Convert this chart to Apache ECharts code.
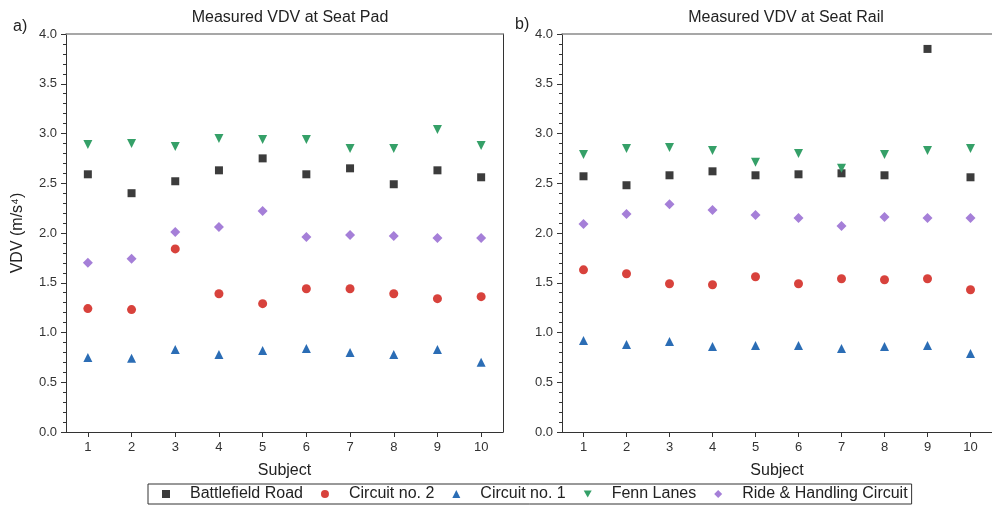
<!DOCTYPE html>
<html>
<head>
<meta charset="utf-8">
<script src="https://cdn.jsdelivr.net/npm/echarts@6/dist/echarts.min.js"></script>
<style>
html,body{margin:0;padding:0;background:#fff;}
#chart{width:992px;height:508px;}
</style>
</head>
<body>
<div id="chart"></div>
<script>
const subjects = ['1','2','3','4','5','6','7','8','9','10'];
const yTicks = [0, 0.5, 1.0, 1.5, 2.0, 2.5, 3.0, 3.5, 4.0];
const seriesNames = ['Battlefield Road', 'Circuit no. 2', 'Circuit no. 1', 'Fenn Lanes', 'Ride & Handling Circuit'];

// a) Seat Pad
const padBattlefield = [2.59, 2.40, 2.52, 2.63, 2.75, 2.59, 2.65, 2.49, 2.63, 2.56];
const padCircuit2    = [1.24, 1.23, 1.84, 1.39, 1.29, 1.44, 1.44, 1.39, 1.34, 1.36];
const padCircuit1    = [0.75, 0.74, 0.83, 0.78, 0.82, 0.84, 0.80, 0.78, 0.83, 0.70];
const padFenn        = [2.89, 2.90, 2.87, 2.95, 2.94, 2.94, 2.85, 2.85, 3.04, 2.88];
const padRide        = [1.70, 1.74, 2.01, 2.06, 2.22, 1.96, 1.98, 1.97, 1.95, 1.95];

// b) Seat Rail
const railBattlefield = [2.57, 2.48, 2.58, 2.62, 2.58, 2.59, 2.60, 2.58, 3.85, 2.56];
const railCircuit2    = [1.63, 1.59, 1.49, 1.48, 1.56, 1.49, 1.54, 1.53, 1.54, 1.43];
const railCircuit1    = [0.92, 0.88, 0.91, 0.86, 0.87, 0.87, 0.84, 0.86, 0.87, 0.79];
const railFenn        = [2.79, 2.85, 2.86, 2.83, 2.71, 2.80, 2.65, 2.79, 2.83, 2.85];
const railRide        = [2.09, 2.19, 2.29, 2.23, 2.18, 2.15, 2.07, 2.16, 2.15, 2.15];

const downTriangle = 'path://M0,0L10,0L5,9Z';
const styles = [
  {color:'#3c3c3c', symbol:'rect', size:8},
  {color:'#d8423c', symbol:'circle', size:9},
  {color:'#2b6db5', symbol:'triangle', size:9},
  {color:'#35a068', symbol:downTriangle, size:9},
  {color:'#a57fd8', symbol:'diamond', size:10}
];

const padData = [padBattlefield, padCircuit2, padCircuit1, padFenn, padRide];
const railData = [railBattlefield, railCircuit2, railCircuit1, railFenn, railRide];

const FONT = 'Liberation Sans, Arial, sans-serif';
const axisColor = '#333';
const frameColor = '#8a8a8a';

function xAxes(gridIndex) {
  return [
    {
      type:'category', gridIndex, data: subjects, boundaryGap:true,
      name:'Subject', nameLocation:'middle', nameGap:31,
      nameTextStyle:{fontSize:16, color:'#222', fontFamily:FONT},
      axisLine:{show:true, onZero:false, lineStyle:{color:axisColor, width:1}},
      axisTick:{show:true, alignWithLabel:true, inside:false, length:5, lineStyle:{color:axisColor}},
      axisLabel:{fontSize:13, color:'#333', margin:9, fontFamily:FONT},
      splitLine:{show:false}
    },
    {
      type:'category', gridIndex, data: subjects, position:'top',
      axisLine:{show:true, onZero:false, lineStyle:{color:frameColor, width:1.5}},
      axisTick:{show:false}, axisLabel:{show:false}, splitLine:{show:false}
    }
  ];
}

function yAxes(gridIndex, withName) {
  const a = {
    type:'value', gridIndex, min:yTicks[0], max:yTicks[yTicks.length-1], interval:yTicks[1]-yTicks[0],
    axisLine:{show:true, onZero:false, lineStyle:{color:axisColor, width:1}},
    axisTick:{show:true, inside:false, length:5, lineStyle:{color:axisColor}},
    minorTick:{show:true, splitNumber:5, length:3, lineStyle:{color:axisColor}},
    axisLabel:{fontSize:13, color:'#333', margin:9, fontFamily:FONT, formatter:v=>v.toFixed(1)},
    splitLine:{show:false}
  };
  if (withName) {
    a.name = 'VDV (m/s⁴)';
    a.nameLocation = 'middle';
    a.nameGap = 40;
    a.nameTextStyle = {fontSize:16, color:'#222', fontFamily:FONT};
  }
  const b = {
    type:'value', gridIndex, min:yTicks[0], max:yTicks[yTicks.length-1], position:'right',
    axisLine:{show:true, onZero:false, lineStyle:{color:axisColor, width:1}},
    axisTick:{show:false}, axisLabel:{show:false}, splitLine:{show:false}
  };
  return [a, b];
}

const series = [];
[padData, railData].forEach((set, gi) => {
  set.forEach((vals, si) => {
    const st = styles[si];
    series.push({
      name: seriesNames[si], type:'scatter',
      xAxisIndex: gi*2, yAxisIndex: gi*2,
      symbol: st.symbol, symbolSize: st.size,
      itemStyle:{color: st.color, opacity:1},
      data: vals.map((v, i) => [subjects[i], v])
    });
  });
});

const chart = echarts.init(document.getElementById('chart'), null, {renderer:'canvas'});
chart.setOption({
  animation:false,
  backgroundColor:'#fff',
  textStyle:{fontFamily:FONT},
  title:[
    {text:'Measured VDV at Seat Pad', left:285, top:5, textAlign:'center',
     textStyle:{fontSize:16, fontWeight:'normal', color:'#222', fontFamily:FONT}},
    {text:'Measured VDV at Seat Rail', left:781, top:5, textAlign:'center',
     textStyle:{fontSize:16, fontWeight:'normal', color:'#222', fontFamily:FONT}},
    {text:'a)', left:8, top:14, textStyle:{fontSize:16, fontWeight:'normal', color:'#222', fontFamily:FONT}},
    {text:'b)', left:510, top:12, textStyle:{fontSize:16, fontWeight:'normal', color:'#222', fontFamily:FONT}}
  ],
  legend:{
    data: seriesNames.map((n, i) => ({name:n, icon: styles[i].symbol})),
    left:148, top:484,
    itemWidth:8, itemHeight:8, itemGap:18,
    borderColor:'#333', borderWidth:1, padding:[2,4,2,14],
    textStyle:{fontSize:16, color:'#222', fontFamily:FONT, padding:[0,0,0,15]}
  },
  grid:[
    {left:66, top:34, width:437, height:398},
    {left:562, top:34, width:437, height:398}
  ],
  xAxis:[...xAxes(0), ...xAxes(1)],
  yAxis:[...yAxes(0, true), ...yAxes(1, false)],
  series
});
</script>
</body>
</html>
